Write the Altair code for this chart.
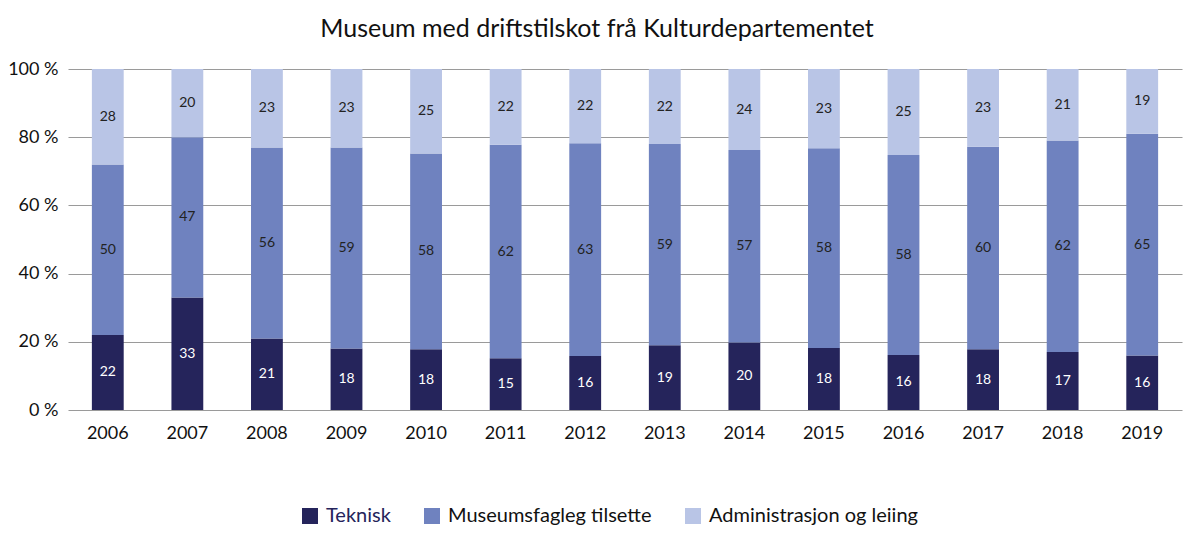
import altair as alt
import pandas as pd

years = ["2006", "2007", "2008", "2009", "2010", "2011", "2012", "2013", "2014", "2015", "2016", "2017", "2018", "2019"]
teknisk = [22, 33, 21, 18, 18, 15, 16, 19, 20, 18, 16, 18, 17, 16]
museum = [50, 47, 56, 59, 58, 62, 63, 59, 57, 58, 58, 60, 62, 65]
admin = [28, 20, 23, 23, 25, 22, 22, 22, 24, 23, 25, 23, 21, 19]
cats = ["Teknisk", "Museumsfagleg tilsette", "Administrasjon og leiing"]
colors = ["#25245b", "#6f82bf", "#b9c5e6"]

rows = []
for i, y in enumerate(years):
    for k, (c, vals) in enumerate(zip(cats, [teknisk, museum, admin])):
        rows.append({"year": y, "cat": c, "value": vals[i], "order": k})
df = pd.DataFrame(rows)

FONT = "Lato"

base = alt.Chart(df).transform_stack(
    stack="value", as_=["y0", "y1"], groupby=["year"],
    sort=[alt.SortField("order")], offset="normalize"
).transform_calculate(mid="(datum.y0 + datum.y1) / 2")

xenc = alt.X("year:N", sort=years, title=None,
             scale=alt.Scale(paddingInner=0.6, paddingOuter=0.3),
             axis=alt.Axis(labelAngle=0, ticks=False, domain=False, labelFontSize=18,
                           labelPadding=14, labelColor="#111", labelFont=FONT))

bars = base.mark_bar().encode(
    x=xenc,
    y=alt.Y("y0:Q", title=None, scale=alt.Scale(domain=[0, 1]),
            axis=alt.Axis(values=[0, 0.2, 0.4, 0.6, 0.8, 1.0],
                          labelExpr="format(datum.value*100, 'd') + ' %'",
                          ticks=False, domain=False, grid=True, gridColor="#9a9a9a",
                          gridWidth=1.2, labelFontSize=18, labelPadding=10,
                          labelColor="#111", labelFont=FONT)),
    y2="y1:Q",
    color=alt.Color("cat:N", sort=cats,
                    scale=alt.Scale(domain=cats, range=colors),
                    legend=alt.Legend(title=None, orient="none", direction="horizontal",
                                      legendX=232, legendY=437, symbolType="square",
                                      symbolSize=256, symbolStrokeWidth=0,
                                      labelFontSize=20, labelFont=FONT,
                                      labelColor={"expr": "datum.label == 'Teknisk' ? '#25245b' : '#111'"},
                                      labelLimit=0, columnPadding=31, labelOffset=6)),
    order=alt.Order("order:Q"),
)

labels = base.mark_text(fontSize=14, font=FONT).encode(
    x=alt.X("year:N", sort=years),
    y=alt.Y("mid:Q"),
    text=alt.Text("value:Q"),
    color=alt.condition("datum.cat == 'Teknisk'", alt.value("white"), alt.value("#222")),
)

chart = alt.layer(bars, labels).properties(
    width=1114, height=341,
    title=alt.TitleParams("Museum med driftstilskot frå Kulturdepartementet",
                          fontSize=25, font=FONT, fontWeight="normal", color="#111",
                          offset=18, dx=-28),
    autosize=alt.AutoSizeParams(type="none"),
    padding={"left": 60, "top": 61, "right": 10, "bottom": 118},
).configure_view(stroke=None)

chart.save("out.html", embed_options={"renderer": "svg", "actions": False})
